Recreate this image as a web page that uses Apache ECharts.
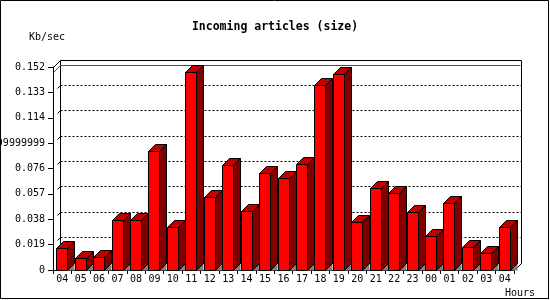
<!DOCTYPE html>
<html><head><meta charset="utf-8">
<script src="https://cdn.jsdelivr.net/npm/echarts@6/dist/echarts.min.js"></script>
<style>html,body{margin:0;padding:0;background:#fff}#c{width:550px;height:300px}</style>
</head><body><div id="c"></div>
<script>
const hours = ['04','05','06','07','08','09','10','11','12','13','14','15','16','17','18','19','20','21','22','23','00','01','02','03','04'];
const sizes = [0.0162,0.0088,0.0095,0.0372,0.0372,0.0885,0.0319,0.1480,0.0544,0.0783,0.0439,0.0723,0.0683,0.0791,0.1382,0.1464,0.0357,0.0611,0.0574,0.0432,0.0252,0.0499,0.0170,0.0125,0.0319];
const yTicks = [0,0.019,0.038,0.057,0.076,0.095,0.114,0.133,0.152];
const yTickLabels = ['0','0.019','0.038','0.057','0.076','0.09499999999999999','0.114','0.133','0.152'];

const D = 7;
const FONT = 'DejaVu Sans Mono';
const cr = v => Math.round(v - 0.5) + 0.5;
const maxVal = Math.max(...sizes);

function renderFrame(params, api) {
  const cs = params.coordSys;
  const x0 = cr(cs.x), x1 = cr(cs.x + cs.width), yb = cr(cs.y + cs.height), yt = cr(cs.y);
  const bx0 = x0 + D, bx1 = x1 + D, byt = yt - D, byb = yb - D;
  const ch = [];
  const L = (a, b, c, d, st) => ch.push({type:'line', shape:{x1:a, y1:b, x2:c, y2:d},
    style: Object.assign({stroke:'#000', lineWidth:1}, st || {})});
  yTicks.forEach((v, i) => {
    const y = cr(api.coord([0, v])[1]);
    if (i > 0 && i < yTicks.length - 1) L(bx0, y - D, bx1, y - D, {lineDash:[2,2]});
    if (i > 0) L(x0 + 4, y - 4, bx0, y - D);
  });
  L(bx0, byt, bx1, byt);
  L(bx0, byt, bx0, byb);
  L(bx1, byt, bx1, byb);
  L(x0, yt, bx0, byt);
  L(x1, yb, bx1, byb);
  const ym = cr(api.coord([0, maxVal])[1]);
  L(bx0, ym - D, bx1 - 1, ym - D, {stroke:'#ff0000'});
  L(x0, ym, bx0, ym - D, {stroke:'#ff0000'});
  return {type:'group', children: ch};
}

function renderBar(params, api) {
  const i = api.value(0), v = api.value(1);
  const top = api.coord([i, v]);
  const base = api.coord([i, 0]);
  const bw = Math.round(api.size([1, 0])[0] * 0.6);
  const xl = cr(top[0] - bw / 2), xr = xl + bw;
  const yt = cr(top[1]), yb = cr(base[1]);
  const s = {stroke:'#000', lineWidth:1};
  return {type:'group', children:[
    {type:'polygon', shape:{points:[[xr, yb], [xr + D, yb - D], [xr + D, yb]]}, style:{fill:'#808080'}},
    {type:'polygon', shape:{points:[[xr, yt], [xr + D, yt - D], [xr + D, yb - D], [xr, yb]]}, style:Object.assign({fill:'#800000'}, s)},
    {type:'polygon', shape:{points:[[xl, yt], [xl + D, yt - D], [xr + D, yt - D], [xr, yt]]}, style:Object.assign({fill:'#c00000'}, s)},
    {type:'rect', shape:{x:xl, y:yt, width:bw, height:yb - yt}, style:Object.assign({fill:'#ff0000'}, s)}
  ]};
}

const chart = echarts.init(document.getElementById('c'), null, {renderer:'canvas', width:550, height:300});
chart.setOption({
  animation: false,
  backgroundColor: '#fff',
  grid: {left:53, right:36, top:67, bottom:30, containLabel:false, outerBoundsMode:'none'},
  xAxis: {type:'category', data:hours, boundaryGap:true,
    axisLine:{lineStyle:{color:'#000', width:1}},
    axisTick:{show:true, length:4, lineStyle:{color:'#000'}},
    axisLabel:{color:'#000', fontFamily:FONT, fontSize:10, margin:4, interval:0, hideOverlap:false},
    splitLine:{show:false}},
  yAxis: {type:'value', min:0, max:0.152, interval:0.019,
    axisLine:{show:true, lineStyle:{color:'#000'}},
    axisTick:{show:true, length:5, lineStyle:{color:'#000'}},
    axisLabel:{color:'#000', fontFamily:FONT, fontSize:10, margin:8,
      formatter: v => yTickLabels[Math.round(v / 0.019)]},
    splitLine:{show:false}},
  series: [
    {type:'custom', silent:true, z:1, renderItem: renderFrame, data:[[0, 0]]},
    {type:'custom', silent:true, z:3, renderItem: renderBar, data: sizes.map((v, i) => [i, v])}
  ],
  graphic: [
    {type:'rect', silent:true, shape:{x:0.5, y:0.5, width:548, height:298}, style:{fill:'none', stroke:'#000', lineWidth:1}},
    {type:'rect', silent:true, shape:{x:548, y:1, width:1, height:298}, style:{fill:'#000'}},
    {type:'rect', silent:true, shape:{x:1, y:298, width:548, height:1}, style:{fill:'#000'}},
    {type:'text', silent:true, x:275, y:27, style:{text:'Incoming articles (size)', fontFamily:FONT, fontWeight:'bold', fontSize:11.5, fill:'#000', align:'center', verticalAlign:'middle'}},
    {type:'text', silent:true, x:29, y:37, style:{text:'Kb/sec', fontFamily:FONT, fontSize:10, fill:'#000', align:'left', verticalAlign:'middle'}},
    {type:'text', silent:true, x:505, y:293, style:{text:'Hours', fontFamily:FONT, fontSize:10, fill:'#000', align:'left', verticalAlign:'middle'}}
  ]
});
</script></body></html>
